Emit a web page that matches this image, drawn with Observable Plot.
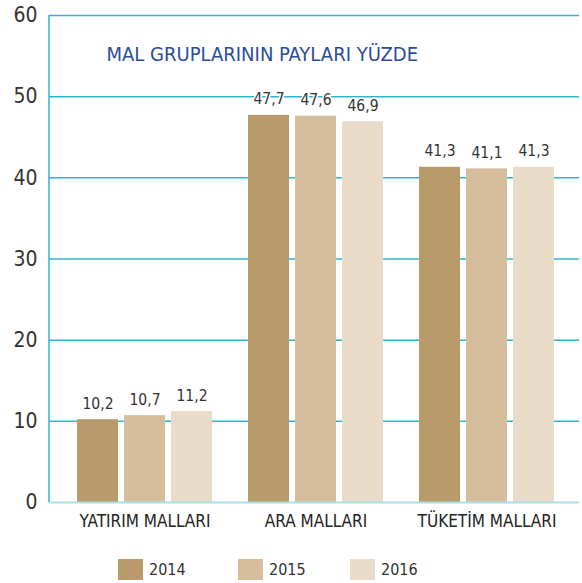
<!DOCTYPE html>
<html>
<head>
<meta charset="utf-8">
<script src="https://cdn.jsdelivr.net/npm/d3@7"></script>
<script src="https://cdn.jsdelivr.net/npm/@observablehq/plot@0.6"></script>
<style>
  body { margin: 0; background: #fff; font-family: "Liberation Sans Narrow", "DejaVu Sans Condensed", sans-serif; }
  #chart svg { display: block; }
  .legend { position: relative; height: 31px; width: 582px; }
  .item { position: absolute; top: 7px; display: flex; align-items: center; font-size: 16px; color: #333; }
  .sw { width: 25px; height: 21px; margin-right: 6px; }
</style>
</head>
<body>
<div id="chart"></div>
<script>
const categories = ["YATIRIM MALLARI", "ARA MALLARI", "TÜKETİM MALLARI"];
const years = ["2014", "2015", "2016"];
const values2014 = [10.2, 47.7, 41.3];
const values2015 = [10.7, 47.6, 41.1];
const values2016 = [11.2, 46.9, 41.3];
const yTicks = [0, 10, 20, 30, 40, 50, 60];
const title = "MAL GRUPLARININ PAYLARI YÜZDE";

const colors = ["#b99a6a", "#d6bd9b", "#e8dbc8"];
const offsets = [-47, 0, 47];
const series = [values2014, values2015, values2016];
const teal = "#2cb6cc";
const font = '"Liberation Sans Narrow", "DejaVu Sans Condensed", sans-serif';

const rows = [];
years.forEach((yr, j) => categories.forEach((c, i) => rows.push({category: c, year: yr, value: series[j][i]})));

const fmt = v => v.toFixed(1).replace(".", ",");

const leftLine = (index, scales, values, dimensions) => {
  const ns = "http://www.w3.org/2000/svg";
  const l = document.createElementNS(ns, "line");
  const x = dimensions.marginLeft;
  l.setAttribute("x1", x); l.setAttribute("x2", x);
  l.setAttribute("y1", scales.y(60)); l.setAttribute("y2", scales.y(0));
  l.setAttribute("stroke", teal); l.setAttribute("stroke-width", 1.5);
  return l;
};

const barMarks = years.map((yr, j) =>
  Plot.barY(rows.filter(d => d.year === yr), {
    x: "category", y: "value", fill: colors[j],
    insetLeft: 65, insetRight: 65, dx: offsets[j]
  })
);
const labelMarks = years.map((yr, j) =>
  Plot.text(rows.filter(d => d.year === yr), {
    x: "category", y: "value", text: d => fmt(d.value), dx: offsets[j], dy: -16,
    fontSize: 15.5, fill: "#333", stroke: "white", strokeWidth: 3, paintOrder: "stroke"
  })
);

const plot = Plot.plot({
  width: 582,
  height: 552,
  marginTop: 15,
  marginBottom: 50,
  marginLeft: 49,
  marginRight: 3,
  style: {fontFamily: font, color: "#333", background: "white"},
  x: {domain: categories, range: [59, 572], padding: 0, label: null},
  y: {domain: [0, 60], label: null},
  marks: [
    Plot.ruleY(yTicks.filter(d => d > 0), {stroke: teal, strokeWidth: 1.5}),
    leftLine,
    ...barMarks,
    Plot.ruleY([0], {stroke: "#a6e0e8", strokeWidth: 2}),
    ...labelMarks,
    Plot.axisY({ticks: yTicks, tickSize: 0, tickPadding: 12, fontSize: 21, label: null, fill: "#333"}),
    Plot.axisX({tickSize: 0, tickPadding: 12, fontSize: 17, label: null, fill: "#222"}),
    Plot.text([title], {frameAnchor: "top-left", dx: 57, dy: 31, fontSize: 20, fill: "#2b4b9e", textAnchor: "start"})
  ]
});
document.getElementById("chart").appendChild(plot);

const legend = document.createElement("div");
legend.className = "legend";
const legendX = [118, 238, 350];
years.forEach((yr, j) => {
  const it = document.createElement("div");
  it.className = "item";
  it.style.left = legendX[j] + "px";
  const sw = document.createElement("div");
  sw.className = "sw";
  sw.style.background = colors[j];
  const t = document.createElement("span");
  t.textContent = yr;
  it.appendChild(sw); it.appendChild(t);
  legend.appendChild(it);
});
document.getElementById("chart").appendChild(legend);
</script>
</body>
</html>
